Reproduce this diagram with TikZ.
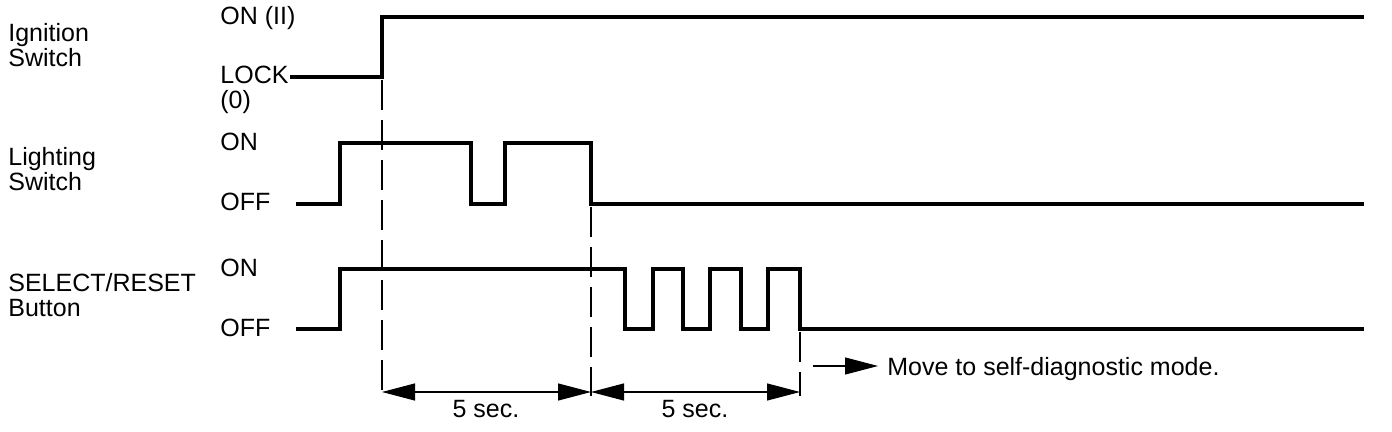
\documentclass[tikz,border=0pt]{standalone}
\usepackage{fontspec}
\setmainfont{Liberation Sans}
\usetikzlibrary{arrows.meta}
\begin{document}
\begin{tikzpicture}[x=0.5pt,y=-0.5pt,
  sig/.style={line width=1.6pt, line join=miter, line cap=butt},
  guide/.style={line width=0.6pt, dash pattern=on 15pt off 5pt},
  dim/.style={line width=0.6pt},
  tri/.tip={Triangle[length=16.5pt,width=8.5pt]},
  lbl/.style={font=\fontsize{12.5}{12.5}\selectfont, inner sep=0pt, anchor=base west, align=left}]
\useasboundingbox (0,0) rectangle (1392,432);

% labels (base anchor = baseline of last line)
\node[lbl] (ign)  at (8,67)   {Ignition\\Switch};
\node[lbl] (onII) at (220,25) {ON (II)};
\node[lbl] (lock) at (220,109) {LOCK\\(0)};
\node[lbl] (lig)  at (8,191)  {Lighting\\Switch};
\node[lbl] (lon)  at (220,151) {ON};
\node[lbl] (loff) at (220,211) {OFF};
\node[lbl] (sel)  at (8,317)  {SELECT/RESET\\Button};
\node[lbl] (son)  at (220,277) {ON};
\node[lbl] (soff) at (220,337) {OFF};

% signals
\draw[sig] (290,77) -- (382,77) -- (382,17) -- (1364,17);
\draw[sig] (296,204) -- (340,204) -- (340,143) -- (471,143) -- (471,204) -- (505,204)
  -- (505,143) -- (591,143) -- (591,204) -- (1364,204);
\draw[sig] (296,329) -- (340,329) -- (340,269) -- (625,269) -- (625,329) -- (653,329)
  -- (653,269) -- (683,269) -- (683,329) -- (710,329) -- (710,269) -- (741,269)
  -- (741,329) -- (768,329) -- (768,269) -- (800,269) -- (800,329) -- (1364,329);

% guide lines
\coordinate (g1t) at (382,80);  \coordinate (g1b) at (382,396);
\coordinate (g2t) at (591,207); \coordinate (g2b) at (591,396);
\coordinate (g3t) at (800,332); \coordinate (g3b) at (800,396);
\draw[guide] (g1t) -- (g1b);
\draw[guide] (g2t) -- (g2b);
\draw[guide] (g3t) -- (g3b);

% dimension arrows
\coordinate (d1) at (382,392);
\coordinate (d2) at (591,392);
\coordinate (d3) at (800,392);
\draw[dim,tri-tri] (d1) -- (d2);
\draw[dim,tri-tri] (d2) -- (d3);
\node[lbl, anchor=base] (t1) at (486,418) {5 sec.};
\node[lbl, anchor=base] (t2) at (695,418) {5 sec.};

% move arrow
\node[lbl] (move) at (887,376) {Move to self-diagnostic mode.};
\coordinate (ms) at (813,366);
\coordinate (me) at (878,366);
\draw[dim,-tri] (ms) -- (me);
\end{tikzpicture}
\end{document}
